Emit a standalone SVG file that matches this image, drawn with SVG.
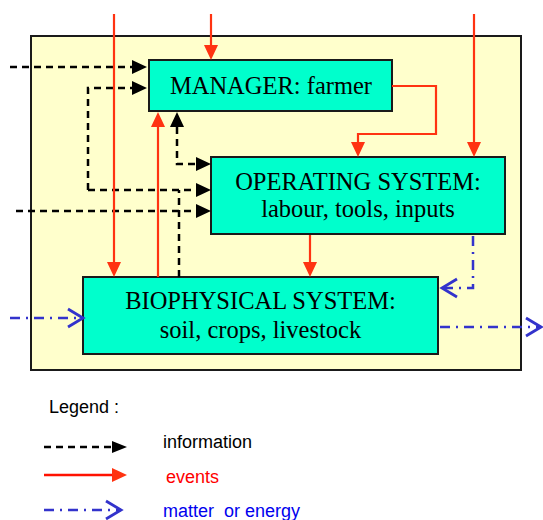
<svg xmlns="http://www.w3.org/2000/svg" width="543" height="520" viewBox="0 0 543 520">
<style>
.box{fill:#00FFCC;stroke:#1a1a1a;stroke-width:2}
.t{font-family:"Liberation Serif","Times New Roman",serif;font-size:24.5px;fill:#000;text-anchor:middle}
.lg{font-family:"Liberation Sans",Arial,sans-serif;font-size:18px}
.info{fill:none;stroke:#000;stroke-width:2.5;stroke-dasharray:7,5}
.ev{fill:none;stroke:#FF3311;stroke-width:2.2}
.me{fill:none;stroke:#3333CC;stroke-width:2.5;stroke-dasharray:10,6,2,6}
</style>
<defs>
<marker id="ab" markerUnits="userSpaceOnUse" markerWidth="15" markerHeight="14" refX="0" refY="7" orient="auto-start-reverse">
<path d="M0,0 L15,7 L0,14 z" fill="#000"/>
</marker>
<marker id="abs" markerUnits="userSpaceOnUse" markerWidth="15" markerHeight="12" refX="0" refY="6" orient="auto">
<path d="M0,0 L15,6 L0,12 z" fill="#000"/>
</marker>
<marker id="ar" markerUnits="userSpaceOnUse" markerWidth="15" markerHeight="14" refX="0" refY="7" orient="auto">
<path d="M0,0 L15,7 L0,14 z" fill="#FF3311"/>
</marker>
<marker id="ob" markerUnits="userSpaceOnUse" markerWidth="18" markerHeight="20" refX="16" refY="10" orient="auto" overflow="visible">
<path d="M1,1 L16,10 L1,19" fill="none" stroke="#3333CC" stroke-width="2.8"/>
</marker>
</defs>
<rect x="31" y="36" width="490" height="334" fill="#FFFFCC" stroke="#1a1a1a" stroke-width="2"/>
<g id="manager">
<rect class="box" x="149" y="60" width="243" height="51"/>
<text class="t" x="271" y="94">MANAGER: farmer</text>
</g>
<g id="operating">
<rect class="box" x="211" y="157" width="294" height="77"/>
<text class="t" x="358" y="190">OPERATING SYSTEM:</text>
<text class="t" x="358" y="217">labour, tools, inputs</text>
</g>
<g id="biophysical">
<rect class="box" x="83" y="277" width="355" height="77"/>
<text class="t" x="260.5" y="309">BIOPHYSICAL SYSTEM:</text>
<text class="t" x="260.5" y="338">soil, crops, livestock</text>
</g>
<g id="connectors">
<path class="info" d="M10,67 H132" marker-end="url(#ab)"/>
<path class="info" d="M88,190 V88 H132" marker-end="url(#ab)"/>
<path class="info" d="M88,190 H196" marker-end="url(#ab)"/>
<path class="info" d="M179,277 V190"/>
<path class="info" d="M16,211 H196" marker-end="url(#ab)"/>
<path class="info" d="M177,127 V164 H196" marker-start="url(#ab)" marker-end="url(#ab)"/>
<path class="ev" d="M114,14 V262" marker-end="url(#ar)"/>
<path class="ev" d="M211,14 V45" marker-end="url(#ar)"/>
<path class="ev" d="M474,14 V142" marker-end="url(#ar)"/>
<path class="ev" d="M392,86 H436 V134 H358 V142" marker-end="url(#ar)"/>
<path class="ev" d="M310,235 V262" marker-end="url(#ar)"/>
<path class="ev" d="M158,277 V127" marker-end="url(#ar)"/>
<path class="me" d="M10,318 H83" marker-end="url(#ob)"/>
<path class="me" d="M473,236 V288 H442" marker-end="url(#ob)"/>
<path class="me" d="M440,327 H541" marker-end="url(#ob)"/>
</g>
<g id="legend">
<text class="lg" x="49" y="413" fill="#000">Legend :</text>
<path class="info" d="M44,447 H112" marker-end="url(#abs)"/>
<text class="lg" x="163" y="448" fill="#000">information</text>
<path d="M44,475 H112" fill="none" stroke="#FF1100" stroke-width="2.5" marker-end="url(#ar)"/>
<text class="lg" x="166" y="483" fill="#FF0000">events</text>
<path class="me" d="M44,510 H121" marker-end="url(#ob)"/>
<text class="lg" x="163" y="517" fill="#0000EE" xml:space="preserve">matter  or energy</text>
</g>
</svg>
